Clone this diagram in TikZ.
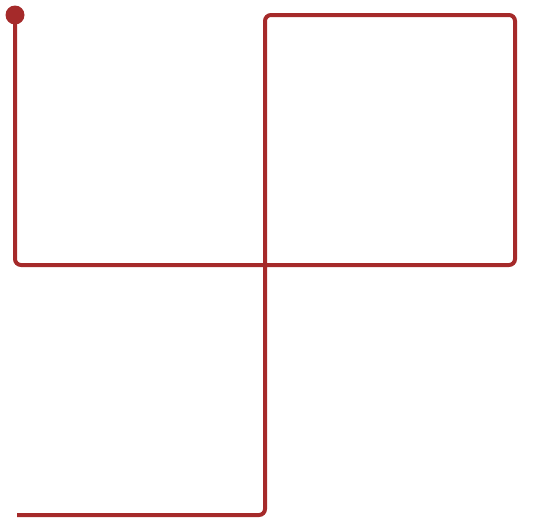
\documentclass[tikz,border=0pt]{standalone}
\definecolor{wire}{HTML}{A52A2A}
\tikzset{wireline/.style={draw=wire,line width=4pt,rounded corners=6pt},
  startdot/.style={circle,fill=wire,inner sep=0pt,minimum size=19pt}}
\begin{document}
\begin{tikzpicture}[x=1pt,y=-1pt]
\useasboundingbox (0,0) rectangle (537,530);
\node[startdot] (s) at (15,15) {};
\coordinate (a) at (15,265);
\coordinate (b) at (515,265);
\coordinate (c) at (515,15);
\coordinate (d) at (265,15);
\coordinate (e) at (265,515);
\coordinate (f) at (17,515);
\draw[wireline] (s.center) -- (a) -- (b) -- (c) -- (d) -- (e) -- (f);
\end{tikzpicture}
\end{document}
